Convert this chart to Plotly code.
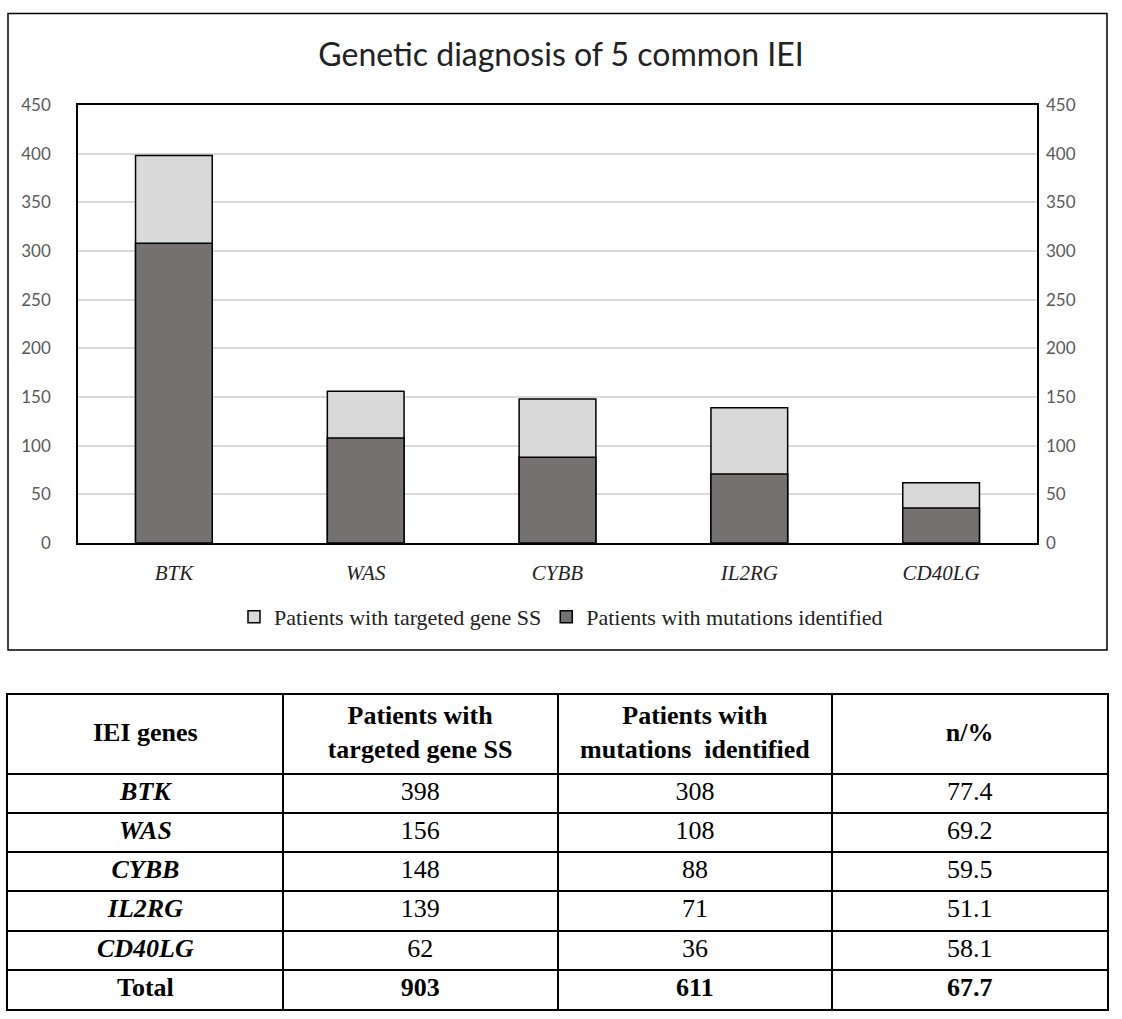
import plotly.graph_objects as go

W, H = 1122, 1019

genes = ["BTK", "WAS", "CYBB", "IL2RG", "CD40LG"]
targeted = [398, 156, 148, 139, 62]
mutations = [308, 108, 88, 71, 36]
percent = [77.4, 69.2, 59.5, 51.1, 58.1]
total_targeted = 903
total_mutations = 611
total_percent = 67.7
y_ticks = [0, 50, 100, 150, 200, 250, 300, 350, 400, 450]

header = ["IEI genes", "Patients with<br>targeted gene SS",
          "Patients with<br>mutations  identified", "n/%"]


def px(x):
    return x / W


def py(y):
    return 1 - y / H


fig = go.Figure()

# light bar = all sequenced, dark bar drawn over it on a twin axis
fig.add_trace(go.Bar(
    x=genes, y=targeted, name="Patients with targeted gene SS",
    marker=dict(color="#d9d9d9", line=dict(color="black", width=1.5)),
    width=0.4, xaxis="x", yaxis="y",
))
fig.add_trace(go.Bar(
    x=genes, y=mutations, name="Patients with mutations identified",
    marker=dict(color="#767171", line=dict(color="black", width=1.5)),
    width=0.4, xaxis="x", yaxis="y2",
))

# table below the chart: text placed on a grid axis (col index, row index)
# header takes two row units, each data row one unit
columns = [
    [f"<b><i>{g}</i></b>" for g in genes] + ["<b>Total</b>"],
    [str(v) for v in targeted] + [f"<b>{total_targeted}</b>"],
    [str(v) for v in mutations] + [f"<b>{total_mutations}</b>"],
    [f"{v:.1f}" for v in percent] + [f"<b>{total_percent:.1f}</b>"],
]
cell_x, cell_y, cell_text = [], [], []
for ci, h in enumerate(header):
    cell_x.append(ci + 0.5)
    cell_y.append(1.0)
    cell_text.append(f"<b>{h}</b>")
    for ri, v in enumerate(columns[ci]):
        cell_x.append(ci + 0.5)
        cell_y.append(ri + 2.5)
        cell_text.append(v)
n_rows = len(genes) + 1

serif = "Liberation Serif"

fig.add_trace(go.Scatter(
    x=cell_x, y=cell_y, text=cell_text, mode="text",
    textposition="middle center",
    textfont=dict(family=serif, size=26, color="black"),
    xaxis="x3", yaxis="y3", showlegend=False, hoverinfo="skip",
))

tick_font = dict(family="Lato", size=17, color="#595959")
table_line = dict(showgrid=True, gridcolor="black", gridwidth=1.5,
                  showline=True, linecolor="black", linewidth=1.5, mirror=True,
                  zeroline=False, showticklabels=False, ticks="", fixedrange=True,
                  automargin=False)

fig.update_layout(
    width=W, height=H,
    margin=dict(l=0, r=0, t=0, b=0, pad=0, autoexpand=False),
    paper_bgcolor="white", plot_bgcolor="white",
    barmode="overlay",
    title=dict(text="Genetic diagnosis of 5 common IEI", x=0.5, xanchor="center",
               y=py(55), yanchor="middle", automargin=False,
               font=dict(family="Lato", size=32, color="#222222")),
    xaxis=dict(
        domain=[px(78), px(1037)],
        tickvals=genes, ticktext=[f"<i>{g}</i>" for g in genes],
        tickfont=dict(family=serif, size=21, color="#222222"),
        showline=True, linecolor="black", linewidth=1.5, mirror=True,
        ticks="", ticklabelstandoff=10, automargin=False,
    ),
    yaxis=dict(
        domain=[py(543), py(105)], range=[0, 450], tickvals=y_ticks,
        showgrid=True, gridcolor="#d9d9d9", gridwidth=1.5,
        showline=True, linecolor="black", linewidth=1.5, mirror=True,
        zeroline=False, tickfont=tick_font, ticks="", ticklabelstandoff=22,
        automargin=False,
    ),
    yaxis2=dict(
        overlaying="y", side="right", range=[0, 450], tickvals=y_ticks,
        showgrid=False, zeroline=False, tickfont=tick_font, ticks="",
        ticklabelstandoff=8, automargin=False,
    ),
    xaxis3=dict(domain=[px(8), px(1107)], range=[0, len(header)],
                tickvals=list(range(len(header) + 1)), anchor="y3", **table_line),
    yaxis3=dict(domain=[py(1009), py(695)], range=[n_rows + 2, 0],
                tickvals=[0] + list(range(2, n_rows + 3)), anchor="x3", **table_line),
    legend=dict(
        orientation="h", x=0.5, xanchor="center", y=py(617), yanchor="middle",
        font=dict(family=serif, size=22, color="#222222"),
        traceorder="normal",
    ),
    shapes=[dict(
        type="rect", xref="paper", yref="paper",
        x0=px(8), x1=px(1107), y0=py(650), y1=py(13.5),
        line=dict(color="black", width=1.5), fillcolor="rgba(0,0,0,0)",
    )],
)

fig.write_html(
    "out.html",
    config={"displayModeBar": False},
    post_script="document.body.style.margin='0';document.body.style.overflow='hidden';",
)
